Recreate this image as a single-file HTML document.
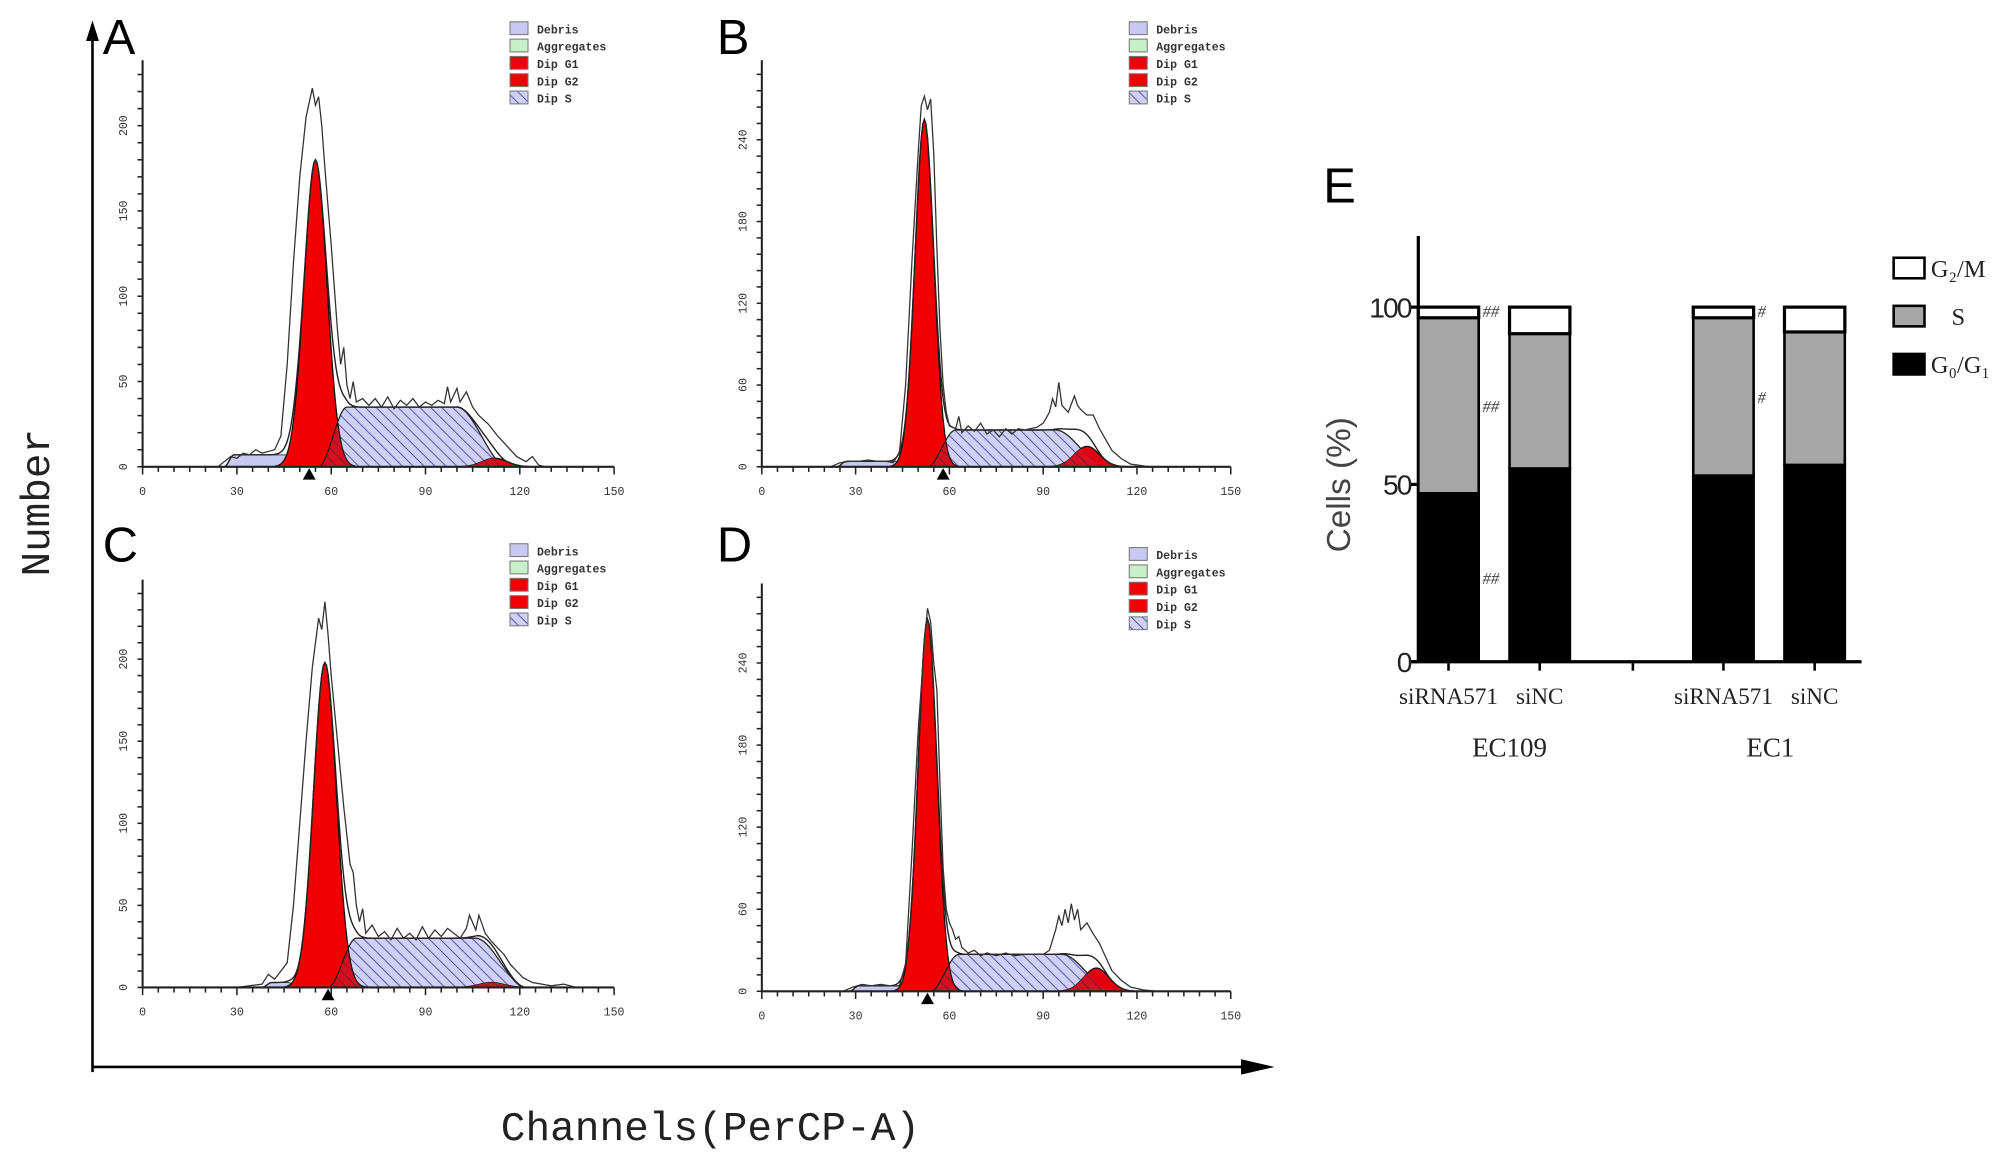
<!DOCTYPE html>
<html><head><meta charset="utf-8"><title>Cell cycle flow cytometry</title>
<style>
html,body{margin:0;padding:0;background:#fff;}
svg{display:block;}
</style></head>
<body>
<svg id="fig" width="2008" height="1158" viewBox="0 0 1563 903" preserveAspectRatio="none" xmlns="http://www.w3.org/2000/svg">
<defs>
<pattern id="hatch" patternUnits="userSpaceOnUse" width="6" height="6" patternTransform="rotate(-45)">
<rect width="6" height="6" fill="#d0d0f4"/>
<line x1="0" y1="0" x2="0" y2="6" stroke="#5a5aa8" stroke-width="1.6"/>
</pattern>
<pattern id="hatchRed" patternUnits="userSpaceOnUse" width="6" height="6" patternTransform="rotate(-45)">
<rect width="6" height="6" fill="#d41020"/>
<line x1="0" y1="0" x2="0" y2="6" stroke="#7a1030" stroke-width="1.2"/>
</pattern>
</defs>
<line x1="72" y1="836" x2="72" y2="28" stroke="#000" stroke-width="2"/>
<polygon points="72,16 67,32 77,32" fill="#000"/>
<line x1="72" y1="832" x2="975" y2="832" stroke="#000" stroke-width="2"/>
<polygon points="992,832 966,826 966,838" fill="#000"/>
<text transform="translate(38,392) rotate(-90)" text-anchor="middle" font-family="Liberation Mono, monospace" font-size="32" fill="#222">Number</text>
<text x="553" y="889" text-anchor="middle" font-family="Liberation Mono, monospace" font-size="32" fill="#222">Channels(PerCP-A)</text>
<g id="histos"></g>
<g id="barchart"></g>
</svg>
<script>
const xTicks = [0, 30, 60, 90, 120, 150];
const yTicksA = [0, 50, 100, 150, 200];
const yTicksB = [0, 60, 120, 180, 240];
const yTicksC = [0, 50, 100, 150, 200];
const yTicksD = [0, 60, 120, 180, 240];
const legendLabels = ["Debris", "Aggregates", "Dip G1", "Dip G2", "Dip S"];
const g1A = [55, 180, 3.6];
const g1B = [52, 255, 3.0];
const g1C = [58, 198, 3.6];
const g1D = [53, 272, 3.0];
const sA = [56, 100, 35];
const sB = [53, 94, 27];
const sC = [59, 106, 30];
const sD = [54, 96, 27];
const g2A = [112, 5, 4];
const g2B = [104, 15, 4];
const g2C = [111, 3, 4];
const g2D = [107, 17, 4];
const debA = [26, 50, 7];
const debB = [24, 45, 4];
const debC = [38, 48, 3];
const debD = [28, 46, 4];
const rawA = [[24,0],[26,3],[28,6],[30,5],[32,8],[34,7],[36,10],[38,8],[40,9],[42,10],[44,18],[46,60],[48,120],[50,170],[52,205],[54,222],[55,212],[56,217],[57,200],[58,175],[60,130],[62,80],[63,60],[64,70],[65,48],[66,40],[67,50],[68,38],[70,40],[72,36],[74,40],[76,35],[78,41],[80,34],[82,39],[84,36],[86,40],[88,35],[90,38],[92,36],[94,39],[96,37],[97,47],[98,38],[100,46],[101,38],[103,44],[105,35],[107,30],[110,25],[113,18],[116,12],[119,6],[122,3],[124,6],[126,1],[128,0]];
const rawB = [[22,0],[25,3],[28,4],[31,4],[34,5],[37,4],[40,4],[42,3],[44,10],[46,60],[48,150],[50,230],[51,265],[52,272],[53,262],[54,270],[55,230],[56,160],[57,100],[58,60],[59,40],[60,30],[62,28],[63,37],[64,25],[66,30],[68,26],[70,32],[72,24],[74,27],[76,22],[78,28],[80,24],[82,28],[84,27],[86,28],[88,29],[90,32],[92,40],[93,50],[94,44],[95,62],[96,45],[98,40],[100,52],[101,45],[102,42],[104,38],[106,38],[108,28],[110,20],[112,12],[115,6],[118,2],[121,1],[124,0]];
const rawC = [[30,0],[34,1],[38,2],[40,8],[42,5],[44,10],[46,15],[48,50],[50,100],[52,150],[54,195],[56,225],[57,218],[58,235],[59,215],[60,190],[62,150],[64,110],[66,75],[67,70],[68,50],[69,40],[70,48],[71,33],[73,38],[75,31],[77,34],[79,29],[81,36],[83,30],[85,33],[87,29],[89,37],[91,30],[93,35],[95,31],[97,36],[99,33],[101,30],[103,36],[104,44],[106,35],[107,44],[109,33],[111,28],[113,24],[115,20],[117,14],[119,10],[121,6],[124,3],[127,2],[130,1],[134,2],[138,0]];
const rawD = [[26,0],[29,3],[32,5],[35,4],[38,5],[41,4],[44,4],[46,20],[48,100],[50,190],[52,255],[53,280],[54,270],[55,240],[56,220],[57,150],[58,90],[59,60],[60,50],[61,45],[62,38],[63,40],[64,32],[66,28],[68,30],[70,26],[72,28],[75,26],[78,28],[81,26],[84,27],[87,27],[90,27],[92,30],[94,45],[95,55],[96,48],[97,60],[98,50],[99,64],[100,52],[101,60],[102,45],[104,50],[106,42],[108,35],[110,25],[112,15],[115,8],[118,3],[122,1],[126,0]];

const panels = [
  {id:"A", ox:111, oy:364, w:367, ytop:47, yMax:200, yPix:266, yTicks:yTicksA, yMinor:10, g1:g1A, s:sA, g2:g2A, deb:debA, raw:rawA, letterX:80, letterY:42, legX:397, legY:17, marker:53},
  {id:"B", ox:593, oy:364, w:365, ytop:47, yMax:240, yPix:255, yTicks:yTicksB, yMinor:12, g1:g1B, s:sB, g2:g2B, deb:debB, raw:rawB, letterX:558, letterY:42, legX:879, legY:17, marker:58},
  {id:"C", ox:111, oy:770, w:367, ytop:452, yMax:200, yPix:256, yTicks:yTicksC, yMinor:10, g1:g1C, s:sC, g2:g2C, deb:debC, raw:rawC, letterX:80, letterY:438, legX:397, legY:424, marker:59},
  {id:"D", ox:593, oy:773, w:365, ytop:455, yMax:240, yPix:256, yTicks:yTicksD, yMinor:12, g1:g1D, s:sD, g2:g2D, deb:debD, raw:rawD, letterX:558, letterY:438, legX:879, legY:427, marker:53}
];

const NS = "http://www.w3.org/2000/svg";
function mk(tag, attrs, parent){
  const e = document.createElementNS(NS, tag);
  for (const k in attrs) e.setAttribute(k, attrs[k]);
  parent.appendChild(e);
  return e;
}
function ramp(x,a,b){ if(x<=a) return 0; if(x>=b) return 1; const t=(x-a)/(b-a); return t*t*(3-2*t); }
function gauss(x,p){ return p[1]*Math.exp(-0.5*Math.pow((x-p[0])/p[2],2)); }
function sFn(x,p){ return p[2]*ramp(x,p[0],p[0]+9)*(1-ramp(x,p[1],p[1]+16)); }
function debFn(x,p){ return p[2]*ramp(x,p[0],p[0]+3)*(1-ramp(x,p[1]-2,p[1]+3)); }

const root = document.getElementById("histos");
panels.forEach(P => {
  const g = mk("g", {}, root);
  
  
  const xs = v => P.ox + v/150*P.w;
  const ys = v => P.oy - v/P.yMax*P.yPix;
  const areaPath = (fn) => {
    let d = "M"+xs(20)+","+ys(0);
    for (let c=20;c<=140;c+=0.5){ d += " L"+xs(c).toFixed(2)+","+ys(fn(c)).toFixed(2); }
    d += " L"+xs(140)+","+ys(0)+" Z";
    return d;
  };
  const linePath = (fn) => {
    let d = "";
    for (let c=20;c<=140;c+=0.5){ d += (d?" L":"M")+xs(c).toFixed(2)+","+ys(fn(c)).toFixed(2); }
    return d;
  };
  const L = mk("text", {x:P.letterX, y:P.letterY, "font-family":"Liberation Sans, sans-serif", "font-size":"38", fill:"#000"}, g);
  
  
  L.textContent = P.id;
  const deb = mk("path", {d:areaPath(c=>debFn(c,P.deb)), fill:"#c8c8f0", stroke:"#444", "stroke-width":"0.8"}, g);
  
  
  const s = mk("path", {d:areaPath(c=>sFn(c,P.s)), fill:"url(#hatch)", stroke:"#222", "stroke-width":"1"}, g);
  
  
  const g1 = mk("path", {d:areaPath(c=>gauss(c,P.g1)), fill:"#f00000", stroke:"#111", "stroke-width":"1"}, g);
  
  
  const ov = mk("path", {d:areaPath(c=>Math.min(sFn(c,P.s),gauss(c,P.g1))), fill:"url(#hatchRed)", stroke:"#111", "stroke-width":"0.8"}, g);
  
  
  const g2 = mk("path", {d:areaPath(c=>gauss(c,P.g2)), fill:"#e00010", stroke:"#111", "stroke-width":"1"}, g);
  
  
  const ov2 = mk("path", {d:areaPath(c=>Math.min(sFn(c,P.s),gauss(c,P.g2))), fill:"url(#hatchRed)", stroke:"none"}, g);
  
  
  const sum = mk("path", {d:linePath(c=>gauss(c,P.g1)+sFn(c,P.s)+gauss(c,P.g2)+debFn(c,P.deb)), fill:"none", stroke:"#222", "stroke-width":"1.1"}, g);
  
  
  const rd = P.raw.map((p,i)=>(i?"L":"M")+xs(p[0]).toFixed(2)+","+ys(p[1]).toFixed(2)).join(" ");
  const raw = mk("path", {d:rd, fill:"none", stroke:"#333", "stroke-width":"1"}, g);
  
  
  const ax = mk("path", {d:"M"+P.ox+","+P.ytop+" L"+P.ox+","+P.oy+" L"+(P.ox+P.w)+","+P.oy, fill:"none", stroke:"#222", "stroke-width":"1.6"}, g);
  
  
  for (let v=0; v<=150; v+=5){
    const big = v%30===0;
    mk("line", {x1:xs(v), y1:P.oy, x2:xs(v), y2:P.oy+(big?6:4), stroke:"#222", "stroke-width":"1.2"}, g);
  }
  xTicks.forEach(v=>{
    const t = mk("text", {x:xs(v), y:P.oy+22, "text-anchor":"middle", "font-family":"Liberation Mono, monospace", "font-size":"9", fill:"#333"}, g);
    
    
    t.textContent = v;
  });
  for (let v=0; ys(v)>=P.ytop-1; v+=P.yMinor){
    mk("line", {x1:P.ox-4, y1:ys(v), x2:P.ox, y2:ys(v), stroke:"#222", "stroke-width":"1.2"}, g);
  }
  P.yTicks.forEach(v=>{
    const t = mk("text", {transform:"translate("+(P.ox-12)+","+ys(v)+") rotate(-90)", "text-anchor":"middle", "font-family":"Liberation Mono, monospace", "font-size":"9", fill:"#333"}, g);
    
    
    t.textContent = v;
  });
  const m = mk("polygon", {points:(xs(P.marker)-5)+","+(P.oy+10)+" "+(xs(P.marker)+5)+","+(P.oy+10)+" "+xs(P.marker)+","+(P.oy+1), fill:"#000"}, g);
  
  
  const fills = ["#c8c8f0","#c8f0c8","#f00000","#f00000","url(#hatch)"];
  legendLabels.forEach((lab,i)=>{
    const lg = mk("g", {}, g);
    
    
    mk("rect", {x:P.legX, y:P.legY+i*13.5, width:14, height:10, fill:fills[i], stroke:"#777", "stroke-width":"0.8"}, lg);
    const t = mk("text", {x:P.legX+21, y:P.legY+i*13.5+9, "font-family":"Liberation Mono, monospace", "font-size":"9", "font-weight":"bold", fill:"#333"}, lg);
    t.textContent = lab;
  });
});

const barCategories = ["siRNA571", "siNC", "siRNA571", "siNC"];
const groupLabels = ["EC109", "EC1"];
const g0g1Values = [47.5, 54.5, 52.5, 55.5];
const sValues = [49.5, 38.0, 44.5, 37.5];
const g2mValues = [3.0, 7.5, 3.0, 7.0];
const barYTicks = [0, 50, 100];
const sigG0 = ["##", "", "", ""];
const sigS = ["##", "", "#", ""];
const sigG2 = ["##", "", "#", ""];

(function(){
  const root = document.getElementById("barchart");
  const ax0 = 1104, ay0 = 516, pxPer = 2.765;
  const yb = v => ay0 - v*pxPer;
  const barX = i => [1104, 1175, 1318, 1389][i];
  const bw = 47;
  const E = mk("text", {x:1030, y:158, "font-family":"Liberation Sans, sans-serif", "font-size":"38", fill:"#000"}, root);
  
  
  E.textContent = "E";
  const ya = mk("line", {x1:ax0, y1:184, x2:ax0, y2:ay0+1, stroke:"#000", "stroke-width":"2.5"}, root);
  
  
  const xa = mk("line", {x1:ax0-5, y1:ay0, x2:1449, y2:ay0, stroke:"#000", "stroke-width":"2.5"}, root);
  
  
  barYTicks.forEach(v=>{
    mk("line", {x1:ax0-6, y1:yb(v), x2:ax0, y2:yb(v), stroke:"#000", "stroke-width":"2.5"}, root);
    const t = mk("text", {x:ax0-6, y:yb(v)+8, "text-anchor":"end", "font-family":"Liberation Sans, sans-serif", "font-size":"22", "letter-spacing":"-1.5", fill:"#222"}, root);
    
    
    t.textContent = v;
  });
  const yt = mk("text", {transform:"translate(1051,378) rotate(-90)", "text-anchor":"middle", "font-family":"Liberation Sans, sans-serif", "font-size":"26", fill:"#444"}, root);
  
  
  yt.textContent = "Cells (%)";
  barCategories.forEach((cat,i)=>{
    const x = barX(i);
    const g = mk("g", {}, root);
    
    
    const a = g0g1Values[i], b = sValues[i], c = g2mValues[i];
    mk("rect", {x:x, y:yb(a), width:bw, height:a*pxPer, fill:"#000", stroke:"#000", "stroke-width":"2"}, g);
    mk("rect", {x:x, y:yb(a+b), width:bw, height:b*pxPer, fill:"#a6a6a6", stroke:"#000", "stroke-width":"2"}, g);
    mk("rect", {x:x, y:yb(a+b+c), width:bw, height:c*pxPer, fill:"#fff", stroke:"#000", "stroke-width":"2.5"}, g);
    mk("line", {x1:x+bw/2, y1:ay0, x2:x+bw/2, y2:ay0+7, stroke:"#000", "stroke-width":"2"}, root);
    const t = mk("text", {x:x+bw/2, y:549, "text-anchor":"middle", "font-family":"Liberation Serif, serif", "font-size":"18", fill:"#222"}, root);
    
    
    t.textContent = cat;
    [[sigG0[i], a/2],[sigS[i], a+b/2],[sigG2[i], 99]].forEach(s=>{
      if(!s[0]) return;
      const h = mk("text", {x:x+bw+3, y:yb(s[1])+5, "font-family":"Liberation Serif, serif", "font-size":"13", "font-style":"italic", fill:"#444"}, root);
      
      
      h.textContent = s[0];
    });
  });
  mk("line", {x1:1271, y1:ay0, x2:1271, y2:ay0+7, stroke:"#000", "stroke-width":"2"}, root);
  [[1175, 0],[1378, 1]].forEach(p=>{
    const t = mk("text", {x:p[0], y:590, "text-anchor":"middle", "font-family":"Liberation Serif, serif", "font-size":"21", fill:"#222"}, root);
    
    
    t.textContent = groupLabels[p[1]];
  });
  const leg = [["#fff","G\u2082/M", 1503],["#a6a6a6","S", 1519],["#000","G\u2080/G\u2081", 1503]];
  leg.forEach((l,i)=>{
    const g = mk("g", {}, root);
    
    
    const y = 201 + i*37.5;
    mk("rect", {x:1474, y:y, width:24, height:16, fill:l[0], stroke:"#000", "stroke-width":"2"}, g);
    const t = mk("text", {x:l[2], y:y+15, "font-family":"Liberation Serif, serif", "font-size":"19", fill:"#222"}, g);
    t.textContent = l[1];
  });
})();
</script>
</body></html>
